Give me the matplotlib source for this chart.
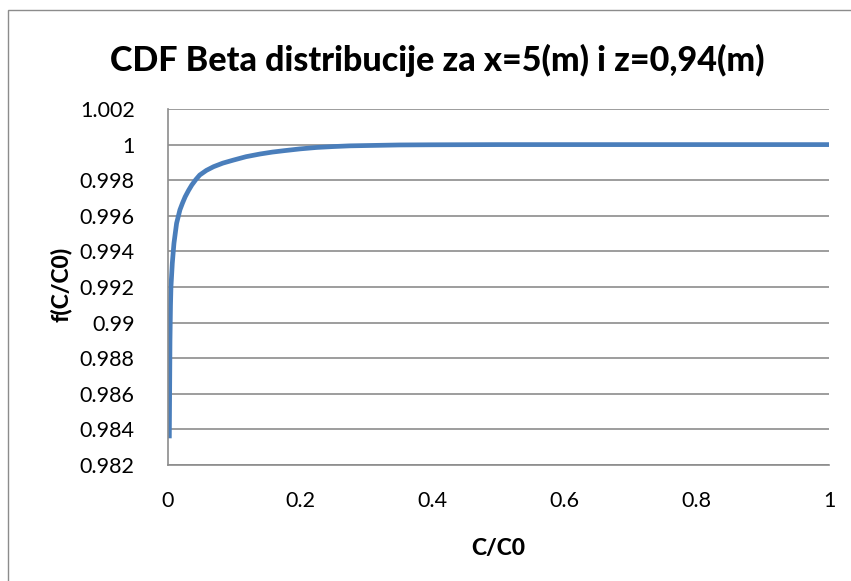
import matplotlib.pyplot as plt
from matplotlib.patches import Rectangle

# data (C/C0 vs CDF)
c_ratio = [0.002, 0.0025, 0.003, 0.0038, 0.0045, 0.0065, 0.009, 0.013, 0.018,
           0.022, 0.026, 0.031, 0.036, 0.042, 0.048, 0.058, 0.069, 0.083,
           0.099, 0.118, 0.139, 0.158, 0.176, 0.2, 0.225, 0.25, 0.275,
           0.35, 0.4, 0.5, 0.6, 0.7, 0.8, 0.9, 1.0]
cdf = [0.9835, 0.9862, 0.9890, 0.9910, 0.99202, 0.99333, 0.99445, 0.99558,
       0.99633, 0.99672, 0.99707, 0.99742, 0.99773, 0.99803, 0.99829, 0.99855,
       0.99876, 0.99896, 0.99913, 0.99932, 0.99947, 0.99958, 0.99966, 0.99976,
       0.99984, 0.99989, 0.99993, 0.99998, 0.99999, 1.0, 1.0, 1.0, 1.0, 1.0, 1.0]

x_ticks = [0, 0.2, 0.4, 0.6, 0.8, 1]
x_tick_labels = ["0", "0.2", "0.4", "0.6", "0.8", "1"]
y_ticks = [0.982, 0.984, 0.986, 0.988, 0.99, 0.992, 0.994, 0.996, 0.998, 1.0, 1.002]
y_tick_labels = ["0.982", "0.984", "0.986", "0.988", "0.99", "0.992", "0.994",
                 "0.996", "0.998", "1", "1.002"]

plt.rcParams["font.family"] = ["Lato", "DejaVu Sans"]

fig = plt.figure(figsize=(8.51, 5.81), dpi=100)
# chart-area frame (only left and top edges fall inside the picture)
fig.patches.append(Rectangle((8 / 851, -0.1), 1.2, 0.1 + 1 - 10 / 581,
                             transform=fig.transFigure, fill=False,
                             edgecolor="#8c8c8c", linewidth=1.0))

ax = fig.add_axes([168 / 851, 1 - 465 / 581, 661 / 851, 356 / 581])
ax.plot(c_ratio, cdf, color="#4a7ebb", linewidth=3.4, solid_capstyle="butt",
        solid_joinstyle="round")

ax.set_xlim(0, 1)
ax.set_ylim(0.982, 1.002)
ax.set_xticks(x_ticks)
ax.set_xticklabels(x_tick_labels)
ax.set_yticks(y_ticks)
ax.set_yticklabels(y_tick_labels)
ax.tick_params(length=0, labelsize=15.5, colors="black", pad=19)
ax.tick_params(axis="y", pad=24)

ax.grid(axis="y", color="#8c8c8c", linewidth=1.2)
ax.set_axisbelow(True)
for side in ("top", "right"):
    ax.spines[side].set_visible(False)
for side in ("left", "bottom"):
    ax.spines[side].set_color("#8c8c8c")
    ax.spines[side].set_linewidth(1.2)

fig.text(437 / 851, 1 - 60 / 581, "CDF Beta distribucije za x=5(m) i z=0,94(m)",
         ha="center", va="center", fontsize=24.5, fontweight="black")
fig.text(498 / 851, 1 - 549 / 581, "C/C0", ha="center", va="center",
         fontsize=16.5, fontweight="black")
fig.text(61 / 851, 1 - 284 / 581, "f(C/C0)", ha="center", va="center",
         rotation=90, fontsize=16.5, fontweight="black")

fig.savefig("out.png", dpi=100)
